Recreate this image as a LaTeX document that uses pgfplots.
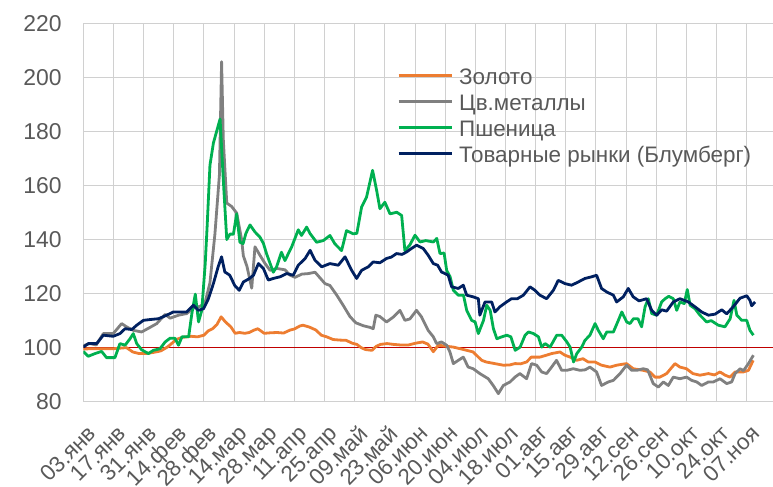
\documentclass[border=0pt]{standalone}
\usepackage{fontspec}
\setmainfont{Liberation Sans}
\usepackage{pgfplots}
\pgfplotsset{compat=1.18}

\definecolor{cgold}{HTML}{ED7D31}
\definecolor{cmet}{HTML}{808080}
\definecolor{cwheat}{HTML}{00B050}
\definecolor{cbcom}{HTML}{002060}
\definecolor{cbase}{HTML}{C00000}
\definecolor{ctext}{HTML}{595959}
\definecolor{cgrid}{HTML}{D0D0D0}

\begin{document}
\begin{tikzpicture}
\useasboundingbox (0,0) rectangle (773bp,487bp);
\begin{axis}[
    at={(83.3bp,85.3bp)}, anchor=south west,
    scale only axis, width=689.7bp, height=378.4bp,
    xmin=0, xmax=320.2, ymin=80, ymax=220,
    axis line style={draw=none},
    major tick length=0pt,
    xtick={0,14,...,308},
    xticklabels={03.янв,17.янв,31.янв,14.фев,28.фев,14.мар,28.мар,11.апр,25.апр,09.май,23.май,06.июн,20.июн,04.июл,18.июл,01.авг,15.авг,29.авг,12.сен,26.сен,10.окт,24.окт,07.ноя},
    ytick={80,100,...,220},
    grid=major,
    grid style={cgrid, line width=1bp},
    /pgf/number format/assume math mode=true,
    ticklabel style={text=ctext},
    xticklabel style={font=\fontsize{22.5}{23}\selectfont, inner sep=0pt, xshift=3bp, yshift=-22bp, rotate=45, anchor=north east},
    yticklabel style={font=\fontsize{23}{24}\selectfont, anchor=east, inner sep=0pt, xshift=-21.5bp},
    legend style={at={(0.4548,0.885)}, anchor=north west, draw=none, fill=none,
        font=\fontsize{22.5}{24}\selectfont, text=ctext, inner sep=0pt, row sep=0pt,
        nodes={inner sep=0pt, text height=17bp, text depth=9.1bp},
        column sep=6bp},
    legend cell align=left,
    legend image code/.code={\draw[#1, line width=3bp] (0bp,5bp) -- (53bp,5bp);},
    every axis plot/.append style={line width=2.8bp, line join=round},
  ]
  % base line at 100
  \addplot[cbase, line width=1bp, forget plot] coordinates {(0,100) (320.2,100)};

  % Золото
  \addplot[cgold] coordinates {
    (0,99.5) (4,99.6) (8,99.6) (14,99.6) (20,100.0) (23,98.4) (26,97.8) (30,97.9)
    (33,98.3) (36,98.8) (39,100.2) (41,101.5) (43,103.0) (46,103.8) (50,104.2)
    (53,104.0) (56,104.6) (58,106.2) (60,107.0) (62,108.5) (64,111.4) (66,109.5)
    (68.5,107.7) (70.5,105.3) (72.5,105.6) (75,105.3) (77,105.6) (79,106.4) (81,107.0)
    (84,105.3) (87,105.5) (90,105.6) (93,105.4) (96,106.5) (98,106.9) (100.5,108.0)
    (102,108.3) (105,107.6) (108,106.5) (110.5,104.6) (113,104.0) (116,103.0)
    (119,102.8) (122,102.7) (125,101.6) (127,101.2) (129,100.0) (131,99.3) (134,99.0)
    (136,100.5) (138,101.2) (141,101.5) (144,101.2) (147,101.0) (151,101.0)
    (154,101.6) (157.5,102.1) (160,101.3) (162.5,98.5) (164.8,100.9) (168.7,100.5)
    (171.8,100.2) (175,99.6) (178,99.0) (181,98.4) (183.4,96.5) (185,95.3) (187,94.7)
    (191,94.1) (195,93.5) (198,93.6) (200.4,94.1) (203,94.0) (205.8,94.7) (208,96.5)
    (212,96.5) (215,97.2) (217.4,97.8) (221.3,98.4) (223.6,97.2) (226,96.5)
    (229,95.3) (232,95.9) (234.4,94.7) (237.5,94.7) (240.6,93.5) (244.5,92.8)
    (247.6,93.5) (252.2,94.1) (255.3,92.2) (260,91.6) (263,91.0) (265.4,89.1)
    (267.7,89.1) (270.8,90.4) (274.7,94.1) (277,92.8) (280,92.2) (283,90.4)
    (286.3,89.8) (290.2,90.4) (293,89.9) (295.6,91.0) (298,89.8) (300.2,89.1)
    (302.6,91.0) (306.4,91.0) (308.8,91.6) (311,95.3)
  };
  \addlegendentry{Золото}

  % Цв.металлы
  \addplot[cmet] coordinates {
    (0,100.7) (3,101.5) (6,101.0) (9.3,105.2) (13.9,105.2) (17.8,108.9) (20.1,107.7)
    (23.2,106.4) (27.1,105.8) (31,107.5) (34.1,108.9) (38,112.3) (40.3,110.9)
    (44.2,112.0) (48,112.6) (51.1,114.6) (54.2,115.3) (56.5,116.5) (58.8,124)
    (61.1,142) (63.2,164) (64.2,205.8) (65,177) (66.6,153.5) (68.9,152.2)
    (71.2,149.8) (73.5,140) (74.3,134) (76,130) (78.2,122) (79.7,137.3) (82,134.2)
    (84.4,131.1) (86.7,128.6) (89.8,129.3) (93.6,128.8) (96,126.8) (98.3,126.0)
    (101.4,127.2) (104.5,127.4) (107.6,127.9) (109.9,125.8) (112.2,123.7)
    (114.5,123) (117.6,119.5) (120.7,115.6) (123.8,111.5) (126.5,109.2) (130,108.1)
    (133.1,107.5) (134.6,107.0) (135.8,112.0) (137.7,111.5) (140.8,109.5)
    (143.9,111.3) (147,113.8) (149.3,110.1) (151.6,110.6) (154.7,113.8) (157,111.4)
    (160.1,106.4) (162.5,104.0) (164,101.5) (166.3,102.1) (168.7,100.9) (170.2,98.4)
    (171.8,94.1) (174.1,95.3) (176.4,96.5) (178.7,92.8) (181,92.2) (184.1,90.4)
    (188,88.5) (190.3,86.0) (192.7,83.0) (195,86.0) (198.1,87.3) (200.4,89.1)
    (202.7,90.4) (205.8,88.5) (208.1,94.1) (210.5,93.5) (212.8,91.0) (215.1,90.4)
    (217.4,92.8) (219.7,95.3) (222.1,91.6) (224.4,91.6) (227.5,92.2) (230.6,91.6)
    (233,91.8) (235.2,92.8) (238.3,91.0) (240.6,86.0) (243.7,87.3) (246.1,87.9)
    (249.2,90.4) (252.2,93.5) (254.6,91.6) (256.9,91.6) (260,92.2) (262,91.8)
    (264.6,86.7) (267,85.4) (269.3,87.3) (271.6,86.0) (273.9,89.1) (277,88.5)
    (280.1,89.1) (282.4,87.9) (284.8,87.3) (287.1,86.0) (290.2,87.3) (292.5,87.3)
    (295.6,88.5) (298.7,86.7) (301,87.3) (302.6,90.4) (304.9,92.2) (306.5,91.5)
    (308.8,94.1) (311.1,97.2)
  };
  \addlegendentry{Цв.металлы}

  % Пшеница
  \addplot[cwheat] coordinates {
    (0,98.6) (2.3,96.8) (5.4,97.8) (8.5,98.6) (10.8,96.3) (14.7,96.3) (17,101.5)
    (19.4,100.9) (21.7,103.3) (23.2,105.2) (24.8,101.5) (27.1,99.2) (30.2,97.8)
    (32.5,99) (35.6,99.6) (38,102.1) (40.3,103.5) (42.5,103.5) (44.2,100.9)
    (45.8,104) (48.9,104) (50.4,112.6) (52,119.8) (53.5,109.5) (55,113.8)
    (56.6,131) (57.5,145) (58.8,167.5) (60.4,175.7) (63.5,184.6) (65,162)
    (66.6,140) (68.1,142) (69.7,142) (71.2,149.5) (72.7,139) (74.2,138.5)
    (75.5,142.3) (77.4,145.4) (79.7,142.8) (82,140.9) (83.6,138.6) (85.1,134.7)
    (88.2,127.9) (89.7,129.8) (92,135.3) (93.6,132.2) (96.7,137.2) (99.8,143.6)
    (101.3,141.5) (103.7,144.6) (105.2,142.3) (108.3,139) (111.4,139.6)
    (114.5,141.5) (116.8,138.4) (119.9,135.9) (122.2,143.3) (125.3,142.1)
    (127,142.3) (129.2,152) (131.5,155.7) (134.3,165.6) (136.2,158.1) (137.7,151.4)
    (140,153.8) (142.4,149.5) (145.5,150.1) (147.8,148.9) (149.3,135.9) (151.6,138)
    (154,141.6) (156.3,139.1) (159,139.6) (162.5,139.1) (164.1,140.4) (165.6,134.8)
    (167.5,135) (168.7,128.6) (170.3,126.2) (171.8,121.2) (174.1,119.4)
    (176.5,119.4) (178,113.8) (180.3,110.1) (181.9,109.5) (183.4,105.2)
    (185.8,110.1) (187.3,115.7) (188.9,113.8) (190.4,107) (192,103.3) (194.3,104)
    (196.6,104.6) (198.5,104) (200.5,99) (202.8,100.2) (205.1,104.6) (206.7,105.8)
    (209,105.2) (211.3,104) (212.8,100.2) (214.4,101.5) (216.7,100.2) (219.8,104.6)
    (222.1,104.6) (224.5,102.1) (226,100.2) (227.6,94.7) (229.1,97.8) (231.4,100.2)
    (232.9,102.7) (235.2,104.6) (237.6,108.9) (239.1,106.4) (241.4,103.3)
    (243,105.8) (246.1,105.8) (248.4,110.1) (250,113.2) (252.3,109.5) (253.8,108.9)
    (255.4,110.7) (257.5,110.7) (259.2,107.7) (260.8,115.1) (262.3,118.1)
    (263.9,112.6) (266.2,112) (268.5,116.9) (270.1,118.1) (271.8,119) (273.9,118.1)
    (275.5,113.8) (277,116.9) (279,116.3) (280.4,121.5) (281.7,115.7) (284,114.4)
    (286.3,112) (289.4,109.5) (291.5,110) (294.8,108.3) (297.9,107.7) (300.3,110.7)
    (302.1,117.5) (303.4,112) (305.7,110.1) (308,110.1) (309.5,106.4) (311.1,104.6)
  };
  \addlegendentry{Пшеница}

  % Товарные рынки (Блумберг)
  \addplot[cbcom] coordinates {
    (0,100.2) (2.3,101.5) (6.2,101.5) (9.3,104.6) (13.9,104.2) (17,105.2) (19.4,107)
    (22.5,106.7) (24.8,108.3) (27.9,110.1) (31,110.4) (34.9,110.7) (38.7,112)
    (41.8,113.2) (44.9,113.2) (48,113.2) (51.1,115.7) (53.4,113.8) (55.8,114.4)
    (58.1,118.1) (60.4,123.7) (62.6,129.9) (64.2,133.6) (65.7,128) (68,126.8)
    (70.3,123) (72.4,121.2) (74.3,124.3) (77,125.5) (79,126.8) (81.3,131.1)
    (83.6,129.3) (85.9,125) (88.2,125.6) (91.3,126.2) (94.4,127.4) (97.5,126.8)
    (99.8,130.5) (103,133) (105.3,136) (107.6,132.3) (110.7,129.9) (114.5,131.1)
    (118.4,130.5) (121.5,133.6) (124.6,128.6) (126.9,125.6) (129.2,128.6)
    (132.3,129.9) (134.6,131.7) (137.7,131.4) (140.8,133) (143,133.5) (145.4,134.8)
    (148,134.5) (150.1,135.4) (152,136.5) (154.7,137.9) (157.8,136.7) (160.1,134.2)
    (162.5,131.1) (164.5,130.5) (166.3,128) (169.4,126.8) (171,122.5) (174.1,121.9)
    (176.4,123.1) (178,119.4) (181,118.8) (183.4,118.1) (184.1,112) (186.5,116.9)
    (189.6,116.9) (191.1,113.2) (193.4,115.1) (196.5,116.9) (198.8,118.1)
    (201.5,118.1) (204.3,119.4) (207.4,122.5) (209.7,121.2) (212,119.4)
    (215.1,118.1) (218.2,121.2) (220.5,124.9) (223.6,123.7) (226.7,123.1)
    (229.8,124.3) (232.9,125.6) (236,126.2) (238.3,126.8) (240.6,121.9) (243,120.6)
    (246.1,119.4) (247.6,116.9) (250.7,118.8) (253,121.9) (255.3,118.8) (258,117.3)
    (261.5,118.1) (263.9,113.8) (266.2,112) (268.5,114) (270.8,113.5) (273.9,116.9)
    (277,118.1) (280.9,116.9) (284,115.1) (287.1,113.2) (290.2,112) (293.3,112.4)
    (296.4,114) (298.7,112.5) (301.8,115.2) (304.9,118.3) (308,119.2) (309.5,117.5)
    (310.3,115.5) (311.9,116.9)
  };
  \addlegendentry{Товарные рынки (Блумберг)}
\end{axis}
\end{tikzpicture}
\end{document}
